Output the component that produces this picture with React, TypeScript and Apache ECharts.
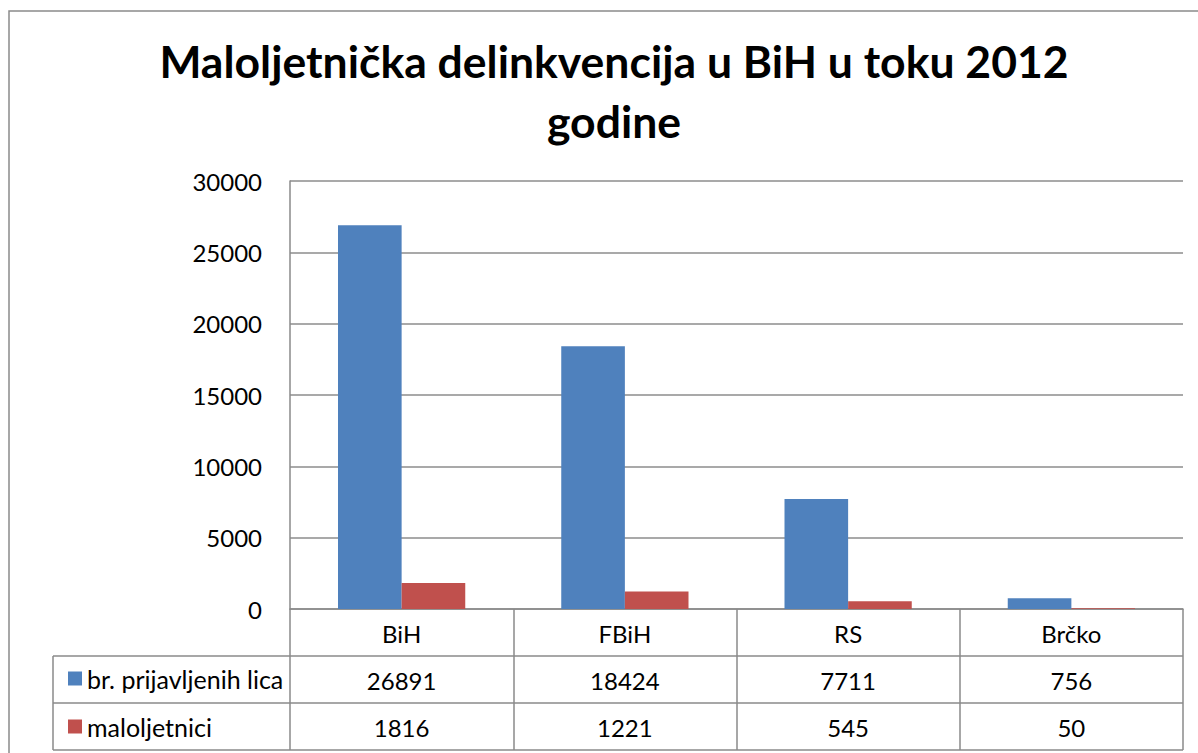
import React, { useEffect, useRef } from "react";
import * as echarts from "echarts";

const categories = ["BiH", "FBiH", "RS", "Brčko"];
const seriesNames = ["br. prijavljenih lica", "maloljetnici"];
const prijavljeni = [26891, 18424, 7711, 756];
const maloljetnici = [1816, 1221, 545, 50];
const titleText = "Maloljetnička delinkvencija u BiH u toku 2012\ngodine";

const W = 1198;
const H = 753;
const GRID_LEFT = 290;
const GRID_RIGHT_X = 1183;
const GRID_TOP = 181;
const GRID_BOTTOM_Y = 609;
const ROW_H = 47;
const TABLE_LEFT = 53;
const FONT = "Lato, 'Open Sans', sans-serif";
const FS = 24;
const LINE = "#8a8a8a";

export default function App() {
  const ref = useRef<HTMLDivElement>(null);
  useEffect(() => {
    document.body.style.margin = "0";
    if (!ref.current) return;
    const chart = echarts.init(ref.current, undefined, { renderer: "svg" });
    const rowLines = [1, 2, 3].map((i) => ({
      type: "line",
      z: 10,
      shape: {
        x1: TABLE_LEFT,
        y1: GRID_BOTTOM_Y + ROW_H * i,
        x2: GRID_RIGHT_X,
        y2: GRID_BOTTOM_Y + ROW_H * i,
      },
      style: { stroke: LINE, lineWidth: 1.5 },
    }));
    const valueAxis = (vals: number[], idx: number) => ({
      type: "category",
      data: vals.map((v) => String(v)),
      position: "bottom",
      offset: ROW_H * idx,
      axisLine: { show: false },
      axisTick: { show: false },
      axisLabel: { margin: 12, fontSize: FS, color: "#000", fontFamily: FONT, interval: 0 },
    });
    chart.setOption({
      animation: false,
      backgroundColor: "#fff",
      title: {
        text: titleText,
        left: 609,
        top: 25,
        textAlign: "center",
        textStyle: { fontSize: 44.5, fontWeight: "bold", lineHeight: 60, color: "#000", fontFamily: FONT },
      },
      legend: {
        orient: "vertical",
        left: 63,
        top: 661,
        icon: "rect",
        itemWidth: 14,
        itemHeight: 14,
        itemGap: 23,
        textStyle: { fontSize: 25, lineHeight: 24, color: "#000", fontFamily: FONT },
        data: seriesNames,
      },
      grid: {
        left: GRID_LEFT,
        right: W - GRID_RIGHT_X,
        top: GRID_TOP,
        bottom: H - GRID_BOTTOM_Y,
        containLabel: false,
      },
      xAxis: [
        {
          type: "category",
          data: categories,
          position: "bottom",
          axisLine: { show: true, lineStyle: { color: LINE, width: 1.5 } },
          axisTick: { show: true, interval: 0, length: ROW_H * 3, lineStyle: { color: LINE, width: 1.5 } },
          axisLabel: { margin: 12, fontSize: FS, color: "#000", fontFamily: FONT, interval: 0 },
        },
        valueAxis(prijavljeni, 1),
        valueAxis(maloljetnici, 2),
      ],
      yAxis: {
        type: "value",
        min: 0,
        max: 30000,
        interval: 5000,
        axisLine: { show: true, lineStyle: { color: LINE, width: 1.5 } },
        axisTick: { show: false },
        axisLabel: {
          margin: 28,
          fontSize: FS,
          color: "#000",
          fontFamily: FONT,
          formatter: (v: number) => String(v),
        },
        splitLine: { lineStyle: { color: "#8c8c8c", width: 1.5 } },
      },
      series: [
        {
          name: seriesNames[0],
          type: "bar",
          data: prijavljeni,
          itemStyle: { color: "#4F81BD" },
          barGap: "0%",
          barCategoryGap: "43%",
        },
        {
          name: seriesNames[1],
          type: "bar",
          data: maloljetnici,
          itemStyle: { color: "#C0504D" },
          barGap: "0%",
          barCategoryGap: "43%",
        },
      ],
      graphic: [
        {
          type: "rect",
          z: 0,
          shape: { x: 9, y: 11, width: 1400, height: 1000 },
          style: { fill: "none", stroke: "#8a8a8a", lineWidth: 1.5 },
        },
        ...rowLines,
        {
          type: "line",
          z: 10,
          shape: { x1: TABLE_LEFT, y1: GRID_BOTTOM_Y + ROW_H, x2: TABLE_LEFT, y2: GRID_BOTTOM_Y + ROW_H * 3 },
          style: { stroke: LINE, lineWidth: 1.5 },
        },
      ],
    });
    return () => chart.dispose();
  }, []);
  return <div ref={ref} style={{ width: W, height: H }} />;
}
